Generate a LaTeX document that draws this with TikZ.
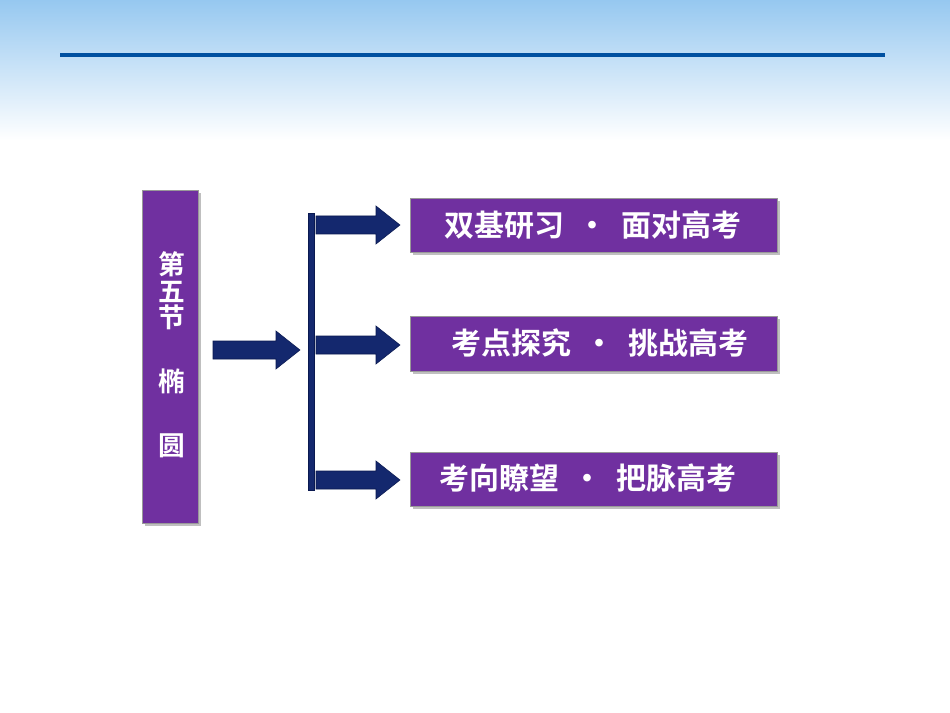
\documentclass[tikz,border=0pt]{standalone}
\usepackage{fontspec}
\newfontfamily\cjk{Noto Sans CJK SC}[BoldFont={Noto Sans CJK SC Bold}]
\definecolor{purp}{RGB}{112,48,160}
\definecolor{navyf}{RGB}{20,40,110}
\definecolor{navyd}{RGB}{10,25,80}
\definecolor{lineb}{RGB}{0,80,160}
\definecolor{sky}{RGB}{150,200,240}
\begin{document}
\begin{tikzpicture}[x=0.75pt,y=-0.75pt,
  pbox/.style={draw=black!40,fill=purp},
  ptext/.style={text=white,font=\cjk\bfseries\fontsize{22.5}{26}\selectfont},
  navy/.style={fill=navyf,draw=navyd}]
\useasboundingbox (0,0) rectangle (950,713);
\fill[white] (0,0) rectangle (950,713);
\shade[top color=sky,bottom color=white] (0,0) rectangle (950,140);
\draw[line width=3pt,lineb] (60,55) -- (885,55);
\foreach \a/\b/\c/\d in {142/190/198/523,410/198/777/252,410/316/777/371,410/452/777/506}
  \fill[black!25] (\a+3,\b+3) rectangle (\c+3,\d+3);
\node[pbox,minimum width=42pt,minimum height=250pt,inner sep=0pt] (L) at (170,356.5) {};
\node[ptext,align=center,font=\cjk\bfseries\fontsize{20}{24}\selectfont] (Lt) at (172,355) {第\\[-4pt]五\\[-4pt]节\\[24pt]椭\\[24pt]圆};
\node[pbox,minimum width=275pt,minimum height=40.5pt,inner sep=0pt] (b1) at (593.5,225) {};
\node[pbox,minimum width=275pt,minimum height=41pt,inner sep=0pt] (b2) at (593.5,343.5) {};
\node[pbox,minimum width=275pt,minimum height=40.5pt,inner sep=0pt] (b3) at (593.5,479) {};
\node[ptext] at (593,225) {双基研习 \ · \ 面对高考};
\node[ptext] at (600,343) {考点探究 \ · \ 挑战高考};
\node[ptext] at (588,478) {考向瞭望 \ · \ 把脉高考};
\fill[navy] (308,213) rectangle (314,490);
\newcommand\barrow[3]{\fill[navy] (#1,#3-9) -- (#2-24,#3-9) -- (#2-24,#3-19) -- (#2,#3) -- (#2-24,#3+19) -- (#2-24,#3+9) -- (#1,#3+9) -- cycle;}
\barrow{213}{300}{350}
\barrow{316}{400}{225}
\barrow{316}{400}{345}
\barrow{316}{400}{480}
\end{tikzpicture}
\end{document}
